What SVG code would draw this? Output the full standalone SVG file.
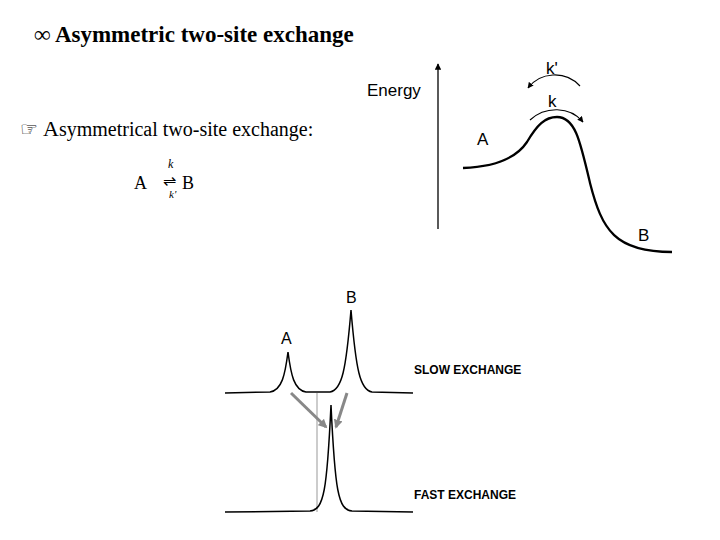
<svg xmlns="http://www.w3.org/2000/svg" width="720" height="540" viewBox="0 0 720 540">
<style>
.serif{font-family:"Liberation Serif",serif;fill:#000}
.sans{font-family:"Liberation Sans",Arial,sans-serif;fill:#000}
.ln{fill:none;stroke:#000}
</style>
<defs>
<marker id="ah" viewBox="0 0 10 10" refX="9" refY="5" markerWidth="5" markerHeight="5" orient="auto"><path d="M0,0L10,5L0,10z" fill="#000"/></marker>
<marker id="ag" viewBox="0 0 10 10" refX="8" refY="5" markerWidth="3" markerHeight="3" orient="auto"><path d="M0,0L10,5L0,10z" fill="#888"/></marker>
</defs>
<rect width="720" height="540" fill="#fff"/>
<g id="title"><text x="34" y="42" class="serif" font-size="23" font-weight="bold">∞ Asymmetric two-site exchange</text></g>
<g id="bullet"><text x="20" y="136" class="serif" font-size="20">☞ <tspan font-size="22">A</tspan>symmetrical two-site exchange:</text></g>
<g id="equation">
<text x="134" y="189" class="serif" font-size="18">A</text>
<text x="168" y="168" class="serif" font-size="12" font-style="italic">k</text>
<text x="163" y="186" class="serif" font-size="16">⇌</text>
<text x="169" y="198" class="serif" font-size="11" font-style="italic">k'</text>
<text x="182" y="189" class="serif" font-size="18">B</text>
</g>
<g id="energy">
<line x1="438" y1="229" x2="438" y2="64" class="ln" stroke-width="1.3" marker-end="url(#ah)"/>
<text x="367" y="96" class="sans" font-size="17">Energy</text>
<path d="M463,168 C490,167 515,160 527,142 C537,125 545,117 557,117 C575,117 580,140 590,183 C602,230 615,252 672,252" class="ln" stroke-width="2.3"/>
<text x="477" y="145" class="sans" font-size="17">A</text>
<text x="638" y="241" class="sans" font-size="17">B</text>
<path d="M580,86 C565,70 540,72 528,88" class="ln" stroke-width="1.2" marker-end="url(#ah)"/>
<text x="546" y="74" class="sans" font-size="17">k'</text>
<path d="M530,120 C545,106 570,106 583,122" class="ln" stroke-width="1.2" marker-end="url(#ah)"/>
<text x="548" y="107" class="sans" font-size="17">k</text>
</g>
<g id="slow">
<path d="M225,393 L270,392 C282,390 285,375 288,352 C291,375 294,390 306,392 L330,392 C342,390 346,370 351,310 C356,370 360,390 372,392 L413,393" class="ln" stroke-width="1.5"/>
<text x="281" y="344" class="sans" font-size="16">A</text>
<text x="346" y="303" class="sans" font-size="16">B</text>
<text x="414" y="374" class="sans" font-size="12" font-weight="bold">SLOW EXCHANGE</text>
</g>
<g id="fast">
<line x1="317" y1="393" x2="317" y2="512" stroke="#999" stroke-width="1"/>
<path d="M225,512 L310,511 C324,510 327,490 331,405 C335,490 338,510 352,511 L413,512" class="ln" stroke-width="1.5"/>
<text x="414" y="499" class="sans" font-size="12" font-weight="bold">FAST EXCHANGE</text>
</g>
<g id="connectors">
<line x1="291" y1="393" x2="326" y2="427" stroke="#888" stroke-width="3" marker-end="url(#ag)"/>
<line x1="347" y1="393" x2="336" y2="427" stroke="#888" stroke-width="3" marker-end="url(#ag)"/>
</g>
</svg>
